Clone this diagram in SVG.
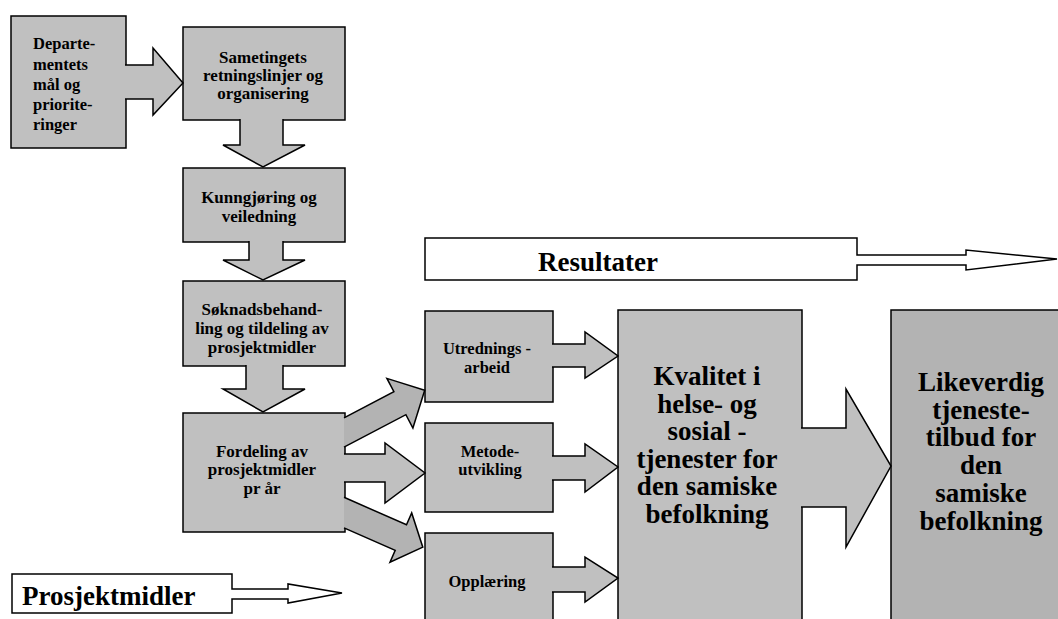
<svg xmlns="http://www.w3.org/2000/svg" width="1058" height="619" viewBox="0 0 1058 619">
<style>
.box{fill:#c0c0c0;stroke:#000;stroke-width:1.5}
.box2{fill:#b3b3b3;stroke:#000;stroke-width:1.5}
.arr{fill:#c0c0c0;stroke:#000;stroke-width:1.5;stroke-linejoin:miter}
.arrd{fill:#b3b3b3;stroke:#000;stroke-width:1.5;stroke-linejoin:miter}
.wb{fill:#fff;stroke:#000;stroke-width:1.5}
.t{font-family:'Liberation Serif','Times New Roman',serif;font-weight:bold;fill:#000}
.s{font-size:17px;text-anchor:middle}
.sl{font-size:16.5px}
.m{font-size:16.5px;text-anchor:middle}
.b{font-size:27px;text-anchor:middle}
.lab{font-size:27px}
</style>
<rect width="1058" height="619" fill="#fff"/>
<g id="nodes">
  <g id="departementet">
    <rect class="box" x="11" y="16" width="115" height="132"/>
    <text class="t sl"><tspan x="33" y="49">Departe-</tspan><tspan x="33" y="70">mentets</tspan><tspan x="33" y="90">mål og</tspan><tspan x="33" y="110">priorite-</tspan><tspan x="33" y="130">ringer</tspan></text>
  </g>
  <g id="sametinget">
    <rect class="box" x="183" y="27" width="162" height="93"/>
    <text class="t s"><tspan x="263" y="63">Sametingets</tspan><tspan x="263" y="81">retningslinjer og</tspan><tspan x="263" y="99">organisering</tspan></text>
  </g>
  <g id="kunngjoring">
    <rect class="box" x="183" y="168" width="162" height="74"/>
    <text class="t s"><tspan x="259" y="203">Kunngjøring og</tspan><tspan x="259" y="222">veiledning</tspan></text>
  </g>
  <g id="soknad">
    <rect class="box" x="183" y="281" width="162" height="85"/>
    <text class="t s"><tspan x="262" y="315">Søknadsbehand-</tspan><tspan x="262" y="334">ling og tildeling av</tspan><tspan x="262" y="353">prosjektmidler</tspan></text>
  </g>
  <g id="fordeling">
    <rect class="box" x="183" y="413" width="162" height="119"/>
    <text class="t s"><tspan x="262" y="457">Fordeling av</tspan><tspan x="262" y="475">prosjektmidler</tspan><tspan x="262" y="494">pr år</tspan></text>
  </g>
  <g id="utredning">
    <rect class="box" x="425" y="311" width="128" height="91"/>
    <text class="t m"><tspan x="487" y="354">Utrednings -</tspan><tspan x="487" y="373">arbeid</tspan></text>
  </g>
  <g id="metode">
    <rect class="box" x="425" y="423" width="128" height="89"/>
    <text class="t m"><tspan x="490" y="457">Metode-</tspan><tspan x="490" y="475">utvikling</tspan></text>
  </g>
  <g id="opplaering">
    <rect class="box" x="425" y="533" width="128" height="100"/>
    <text class="t m" x="487" y="587">Opplæring</text>
  </g>
  <g id="kvalitet">
    <rect class="box" x="618" y="310" width="184" height="320"/>
    <text class="t b"><tspan x="707" y="385">Kvalitet i</tspan><tspan x="707" y="413">helse- og</tspan><tspan x="707" y="440">sosial -</tspan><tspan x="707" y="468">tjenester for</tspan><tspan x="707" y="495">den samiske</tspan><tspan x="707" y="523">befolkning</tspan></text>
  </g>
  <g id="likeverdig">
    <rect class="box2" x="891" y="310" width="180" height="320"/>
    <text class="t b"><tspan x="981" y="391">Likeverdig</tspan><tspan x="981" y="419">tjeneste-</tspan><tspan x="981" y="446">tilbud for</tspan><tspan x="981" y="474">den</tspan><tspan x="981" y="502">samiske</tspan><tspan x="981" y="530">befolkning</tspan></text>
  </g>
  <g id="resultater">
    <polygon class="wb" points="425,238 857,238 857,255 966,255 966,250 1057,259 966,270 966,265 857,265 857,280 425,280"/>
    <text class="t lab" x="598" y="271" text-anchor="middle">Resultater</text>
  </g>
  <g id="prosjektmidler">
    <polygon class="wb" points="12,574 232,574 232,589 288,589 288,584 342,593 288,603 288,599 232,599 232,613 12,613"/>
    <text class="t lab" x="22" y="605">Prosjektmidler</text>
  </g>
</g>
<g id="connectors">
  <path class="arr" d="M125,65 L153,65 L153,48 L183,83 L153,115 L153,99 L125,99"/>
  <path class="arr" d="M283,119 L283,145 L305,145 L263,167 L223,145 L240,145 L240,119"/>
  <path class="arr" d="M283,241 L283,260 L305,260 L263,280 L223,260 L249,260 L249,241"/>
  <path class="arr" d="M283,365 L283,389 L305,389 L263,412 L223,389 L246,389 L246,365"/>
  <path class="arrd" d="M344,417.9 L393.9,391.7 L386.9,378.4 L424.7,390.2 L412.9,428 L405.9,414.7 L344,447.2"/>
  <path class="arr" d="M344,454 L385,454 L385,443 L425,473 L385,503 L385,482 L344,482"/>
  <path class="arrd" d="M344,497.3 L406.5,524.8 L411.7,512.9 L422.8,547.2 L390,562.3 L395.2,550.4 L344,527.9"/>
  <path class="arr" d="M552,344 L585,344 L585,332 L618,356 L585,378 L585,367 L552,367"/>
  <path class="arr" d="M552,456 L585,456 L585,444 L618,467 L585,492 L585,480 L552,480"/>
  <path class="arr" d="M552,567 L585,567 L585,557 L618,578 L585,602 L585,592 L552,592"/>
  <path class="arr" d="M801,428 L846,428 L846,389 L891,466 L846,547 L846,507 L801,507"/>
</g>
</svg>
